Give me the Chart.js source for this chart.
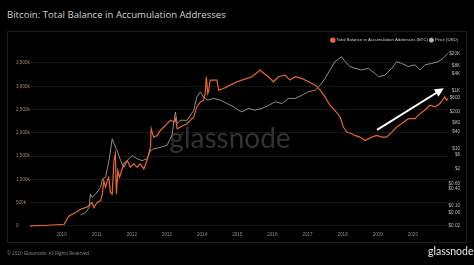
<!DOCTYPE html>
<html>
<head>
<meta charset="utf-8">
<title>Bitcoin: Total Balance in Accumulation Addresses</title>
<script src="https://cdn.jsdelivr.net/npm/chart.js@4/dist/chart.umd.min.js"></script>
<style>
    html, body { margin: 0; padding: 0; background: #000; }
    body { width: 474px; height: 265px; position: relative; overflow: hidden; font-family: "Open Sans", "Liberation Sans", sans-serif; }
    .chart-title { position: absolute; left: 7px; top: 8px; font-size: 9.6px; color: #d2d2d2; white-space: nowrap; }
    .chart-frame { position: absolute; left: 7px; top: 31px; width: 458px; height: 210px; border: 1px solid #1c1c1c; }
    .chart-box { position: absolute; left: 0; top: 0; width: 474px; height: 265px; }
    .chart-copy { position: absolute; left: 7px; top: 250px; font-size: 4.6px; color: #8a8a8a; white-space: nowrap; }
    .chart-logo { position: absolute; left: 428px; top: 245px; font-family: Lato, sans-serif; font-size: 10.5px; color: #e6e6e6; }
</style>
</head>
<body>
<div class="chart-title">Bitcoin: Total Balance in Accumulation Addresses</div>
<div class="chart-frame"></div>
<div class="chart-box"><canvas id="chart" width="474" height="265"></canvas></div>
<div class="chart-copy">© 2020 Glassnode. All Rights Reserved.</div>
<div class="chart-logo">glassnode</div>

<script>
// total balance (thousand BTC)
var balanceYears = [2009.1, 2009.6, 2010.07, 2010.21, 2010.4, 2010.54, 2010.73, 2010.87, 2010.92, 2011.01,
    2011.11, 2011.16, 2011.2, 2011.25, 2011.3, 2011.34, 2011.39, 2011.44, 2011.49, 2011.53,
    2011.56, 2011.6, 2011.65, 2011.68, 2011.77, 2011.87, 2011.96, 2012.05, 2012.15, 2012.24,
    2012.34, 2012.43, 2012.48, 2012.53, 2012.55, 2012.62, 2012.72, 2012.81, 2012.91, 2013.0,
    2013.1, 2013.19, 2013.24, 2013.29, 2013.38, 2013.57, 2013.76, 2013.85, 2013.95, 2014.04,
    2014.09, 2014.12, 2014.16, 2014.18, 2014.23, 2014.42, 2014.47, 2014.61, 2014.8, 2014.99,
    2015.13, 2015.42, 2015.65, 2015.7, 2015.89, 2016.03, 2016.17, 2016.36, 2016.5, 2016.65,
    2016.84, 2017.03, 2017.22, 2017.36, 2017.5, 2017.64, 2017.78, 2017.93, 2018.02, 2018.12,
    2018.26, 2018.35, 2018.49, 2018.64, 2018.83, 2018.97, 2019.11, 2019.25, 2019.4, 2019.54,
    2019.68, 2019.87, 2020.06, 2020.2, 2020.34, 2020.48, 2020.63, 2020.77, 2020.91, 2020.96, 2021.0];
var balanceK = [0, 15, 36, 216, 288, 360, 410, 504, 396, 504,
    540, 684, 972, 828, 972, 1044, 720, 684, 1404, 1548,
    684, 1188, 1044, 1116, 1332, 1404, 1260, 1332, 1260, 1332,
    1224, 1404, 1548, 1692, 2088, 1908, 1944, 2052, 2124, 2196,
    2268, 2232, 2304, 2088, 2124, 2196, 2340, 2556, 2664, 2700,
    2844, 3204, 2844, 2880, 3132, 3132, 2916, 2952, 3024, 3096,
    3132, 3204, 3348, 3312, 3204, 3096, 3204, 3240, 3132, 3204,
    3168, 3096, 3024, 2916, 2772, 2592, 2484, 2340, 2124, 2016,
    1980, 1944, 1908, 1836, 1908, 1944, 1908, 1908, 2016, 2124,
    2196, 2304, 2304, 2412, 2484, 2592, 2556, 2628, 2772, 2700, 2736];

// price (USD)
var priceYears = [2010.54, 2010.68, 2010.78, 2010.82, 2010.87, 2010.97, 2011.11, 2011.16, 2011.25, 2011.35,
    2011.44, 2011.49, 2011.58, 2011.68, 2011.77, 2011.87, 2012.0, 2012.15, 2012.29, 2012.43,
    2012.53, 2012.62, 2012.81, 2013.0, 2013.14, 2013.24, 2013.29, 2013.38, 2013.57, 2013.76,
    2013.85, 2013.95, 2014.04, 2014.14, 2014.33, 2014.52, 2014.71, 2014.9, 2015.04, 2015.13,
    2015.32, 2015.51, 2015.7, 2015.89, 2016.08, 2016.27, 2016.46, 2016.65, 2016.84, 2017.03,
    2017.22, 2017.36, 2017.5, 2017.64, 2017.78, 2017.97, 2018.07, 2018.21, 2018.35, 2018.54,
    2018.73, 2018.92, 2019.02, 2019.2, 2019.4, 2019.54, 2019.68, 2019.87, 2020.06, 2020.2,
    2020.34, 2020.53, 2020.72, 2020.86, 2021.0];
var priceUsd = [0.049, 0.059, 0.087, 0.26, 0.2, 0.26, 0.44, 0.87, 1.0, 3.8,
    22, 15, 8.5, 3.8, 2.2, 3.8, 5.7, 4.4, 3.8, 4.4,
    8.5, 9.8, 11, 13, 29, 190, 74, 97, 97, 213,
    630, 950, 630, 490, 560, 490, 370, 285, 217, 190,
    250, 217, 250, 320, 430, 370, 560, 560, 720, 960,
    1100, 1600, 2800, 5500, 10700, 16000, 10700, 7300, 6300, 5500,
    6300, 4200, 3200, 3600, 6300, 10700, 9300, 7300, 8300, 5500,
    8300, 9300, 10700, 14000, 21000];

var yearTicks = [2010, 2011, 2012, 2013, 2014, 2015, 2016, 2017, 2018, 2019, 2020];
var balanceTicks = [0, 500, 1000, 1500, 2000, 2500, 3000, 3500];
var priceTicks = [0.02, 0.06, 0.1, 0.4, 0.6, 2, 6, 10, 40, 80, 200, 600, 1000, 4000, 8000, 20000];

// annotation arrow, in (year, thousand BTC)
var arrowFrom = [2018.98, 2065];
var arrowTo = [2020.88, 2957];

function toPoints(xs, ys) {
    var pts = [];
    for (var i = 0; i < xs.length; i++) {
        pts.push({ x: xs[i], y: ys[i] });
    }
    return pts;
}

function fmtBalance(v) {
    if (v === 0) return '0';
    if (v >= 1000) {
        var rest = String(v % 1000);
        while (rest.length < 3) rest = '0' + rest;
        return Math.floor(v / 1000) + ',' + rest + 'k';
    }
    return v + 'k';
}

function fmtPrice(v) {
    if (v >= 1000) return '$' + (v / 1000) + 'K';
    if (v < 1) return '$' + v.toFixed(2);
    return '$' + v;
}

var watermark = {
    id: 'watermark',
    beforeDatasetsDraw: function (chart) {
        var a = chart.chartArea;
        var ctx = chart.ctx;
        ctx.save();
        ctx.font = '28px Lato, sans-serif';
        ctx.fillStyle = '#323232';
        ctx.textAlign = 'center';
        ctx.textBaseline = 'alphabetic';
        ctx.fillText('glassnode', (a.left + a.right) / 2 - 9, (a.top + a.bottom) / 2 + 7);
        ctx.restore();
    }
};

var arrow = {
    id: 'arrow',
    afterDatasetsDraw: function (chart) {
        var xs = chart.scales.x, ys = chart.scales.y;
        var x1 = xs.getPixelForValue(arrowFrom[0]), y1 = ys.getPixelForValue(arrowFrom[1]);
        var x2 = xs.getPixelForValue(arrowTo[0]), y2 = ys.getPixelForValue(arrowTo[1]);
        var ang = Math.atan2(y2 - y1, x2 - x1);
        var head = 10;
        var ctx = chart.ctx;
        ctx.save();
        ctx.strokeStyle = '#ffffff';
        ctx.fillStyle = '#ffffff';
        ctx.lineWidth = 2;
        ctx.beginPath();
        ctx.moveTo(x1, y1);
        ctx.lineTo(x2 - Math.cos(ang) * head * 0.8, y2 - Math.sin(ang) * head * 0.8);
        ctx.stroke();
        ctx.beginPath();
        ctx.moveTo(x2, y2);
        ctx.lineTo(x2 - head * Math.cos(ang - 0.45), y2 - head * Math.sin(ang - 0.45));
        ctx.lineTo(x2 - head * Math.cos(ang + 0.45), y2 - head * Math.sin(ang + 0.45));
        ctx.closePath();
        ctx.fill();
        ctx.restore();
    }
};

var ctx = document.getElementById('chart');
var myChart = new Chart(ctx, {
    type: 'line',
    data: {
        datasets: [{
            label: 'Total Balance in Accumulation Addresses (BTC)',
            data: toPoints(balanceYears, balanceK),
            yAxisID: 'y',
            borderColor: '#e8672c',
            backgroundColor: '#e8672c',
            borderWidth: 1.2,
            pointRadius: 0,
            tension: 0,
            clip: false
        }, {
            label: 'Price (USD)',
            data: toPoints(priceYears, priceUsd),
            yAxisID: 'y1',
            borderColor: '#9c9c9c',
            backgroundColor: '#bdbdbd',
            borderWidth: 0.9,
            pointRadius: 0,
            tension: 0,
            clip: false
        }]
    },
    options: {
        responsive: false,
        animation: false,
        layout: { padding: { left: 16, right: 14, top: 36, bottom: 26 } },
        plugins: {
            tooltip: { enabled: false },
            legend: {
                position: 'top',
                align: 'end',
                labels: {
                    color: '#cfcfcf',
                    font: { size: 4.3 },
                    usePointStyle: true,
                    pointStyle: 'circle',
                    boxWidth: 3,
                    boxHeight: 3,
                    padding: 2
                }
            }
        },
        scales: {
            x: {
                type: 'linear',
                min: 2009.1,
                max: 2021.0,
                grid: { display: false, drawTicks: false },
                border: { display: false },
                afterBuildTicks: function (axis) {
                    axis.ticks = yearTicks.map(function (v) { return { value: v }; });
                },
                ticks: {
                    color: '#8c8c8c',
                    font: { size: 4.6 },
                    padding: 2,
                    maxRotation: 0,
                    autoSkip: false,
                    callback: function (v) { return String(v); }
                }
            },
            y: {
                type: 'linear',
                position: 'left',
                min: -76,
                max: 3729,
                grid: { color: '#151515', drawTicks: false },
                border: { display: false },
                afterBuildTicks: function (axis) {
                    axis.ticks = balanceTicks.map(function (v) { return { value: v }; });
                },
                afterFit: function (axis) { axis.width = 14; },
                ticks: {
                    color: '#a88a70',
                    font: { size: 4.6 },
                    padding: 2,
                    crossAlign: 'far',
                    callback: fmtBalance
                }
            },
            y1: {
                type: 'logarithmic',
                position: 'right',
                min: 0.01507,
                max: 22750,
                grid: { display: false, drawTicks: false },
                border: { display: false },
                afterBuildTicks: function (axis) {
                    axis.ticks = priceTicks.map(function (v) { return { value: v }; });
                },
                afterFit: function (axis) { axis.width = 12; },
                ticks: {
                    color: '#bdbdbd',
                    font: { size: 4.6 },
                    padding: 2,
                    crossAlign: 'far',
                    callback: fmtPrice
                }
            }
        }
    },
    plugins: [watermark, arrow]
});
</script>
</body>
</html>
